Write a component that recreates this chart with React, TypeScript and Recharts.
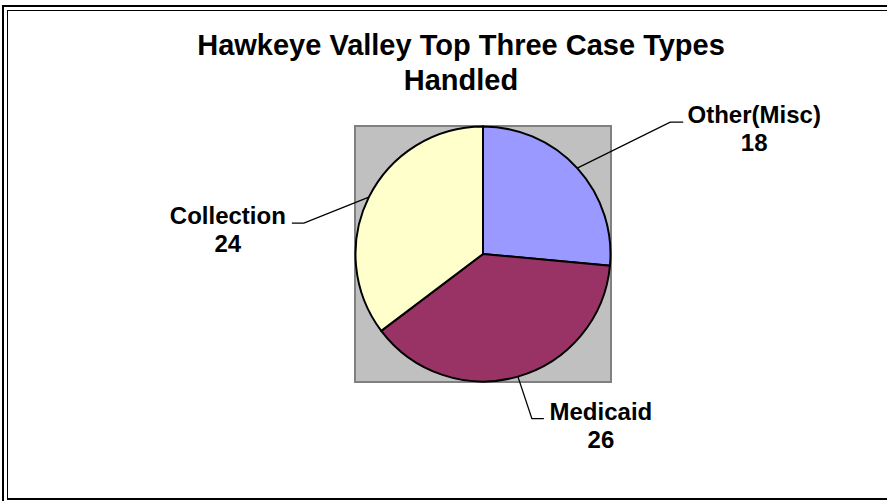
import React from 'react';
import { PieChart, Pie, Cell, Customized } from 'recharts';

const categories = ['Other(Misc)', 'Medicaid', 'Collection'];
const caseCounts = [18, 26, 24];
const sliceColors = ['#9999FF', '#993366', '#FFFFCC'];
const titleLines = ['Hawkeye Valley Top Three Case Types', 'Handled'];

const data = categories.map((name, i) => ({ name, value: caseCounts[i] }));

// label layout (leader elbow offset from slice edge, tail length, text centre offset)
const labelLayout: Record<string, { dx: number; dy: number; tail: number; textDx: number }> = {
  'Other(Misc)': { dx: 93, dy: -46, tail: 13, textDx: 71 },
  Medicaid: { dx: 14, dy: 42, tail: 12, textDx: 57 },
  Collection: { dx: -65, dy: 26, tail: -12, textDx: -64 },
};

const FONT = '"Liberation Sans", Arial, Helvetica, sans-serif';
const RAD = Math.PI / 180;

const renderLabel = (props: any) => {
  const { cx, cy, midAngle, outerRadius, name, value } = props;
  const ex = cx + outerRadius * Math.cos(-midAngle * RAD);
  const ey = cy + outerRadius * Math.sin(-midAngle * RAD);
  const l = labelLayout[name];
  const bx = ex + l.dx;
  const by = ey + l.dy;
  const tx = bx + l.tail;
  const textX = tx + l.textDx;
  return (
    <g key={`lbl-${name}`}>
      <polyline points={`${ex},${ey} ${bx},${by} ${tx},${by}`} fill="none" stroke="#000" strokeWidth={1.3} />
      <text x={textX} y={by + 1} textAnchor="middle" fontFamily={FONT} fontWeight="bold" fontSize={24} fill="#000">
        {name}
      </text>
      <text x={textX} y={by + 29} textAnchor="middle" fontFamily={FONT} fontWeight="bold" fontSize={24} fill="#000">
        {value}
      </text>
    </g>
  );
};

const Title = () => (
  <g>
    {titleLines.map((t, i) => (
      <text
        key={t}
        x={461}
        y={55 + i * 34.6}
        textAnchor="middle"
        fontFamily={FONT}
        fontWeight="bold"
        fontSize={29}
        fill="#000"
      >
        {t}
      </text>
    ))}
  </g>
);

export default function App() {
  return (
    <div
      style={{
        position: 'absolute',
        left: 0,
        top: 0,
        width: 887,
        height: 501,
        overflow: 'hidden',
        background: '#fff',
      }}
    >
      {/* outer frame */}
      <div
        style={{
          position: 'absolute',
          left: 2,
          top: 5,
          width: 1000,
          height: 1000,
          borderLeft: '2px solid #000',
          borderTop: '2px solid #000',
        }}
      />
      {/* inner frame */}
      <div
        style={{
          position: 'absolute',
          left: 7,
          top: 10,
          width: 1000,
          height: 487,
          borderLeft: '1px solid #000',
          borderTop: '1px solid #000',
          borderBottom: '2px solid #000',
        }}
      />
      {/* plot area */}
      <div
        style={{
          position: 'absolute',
          left: 354,
          top: 125,
          width: 254,
          height: 254,
          background: '#C0C0C0',
          border: '2px solid #808080',
        }}
      />
      <div style={{ position: 'absolute', left: 0, top: 0 }}>
        <PieChart
          width={887}
          height={501}
          margin={{ top: 0, right: 0, bottom: 0, left: 0 }}
          style={{ background: 'transparent' }}
        >
          <Customized component={Title} />
          <Pie
            data={data}
            dataKey="value"
            nameKey="name"
            cx={483}
            cy={254}
            outerRadius={127.5}
            startAngle={90}
            endAngle={-270}
            stroke="#000"
            strokeWidth={2}
            label={renderLabel}
            labelLine={false}
            isAnimationActive={false}
          >
            {data.map((d, i) => (
              <Cell key={d.name} fill={sliceColors[i]} />
            ))}
          </Pie>
        </PieChart>
      </div>
    </div>
  );
}
